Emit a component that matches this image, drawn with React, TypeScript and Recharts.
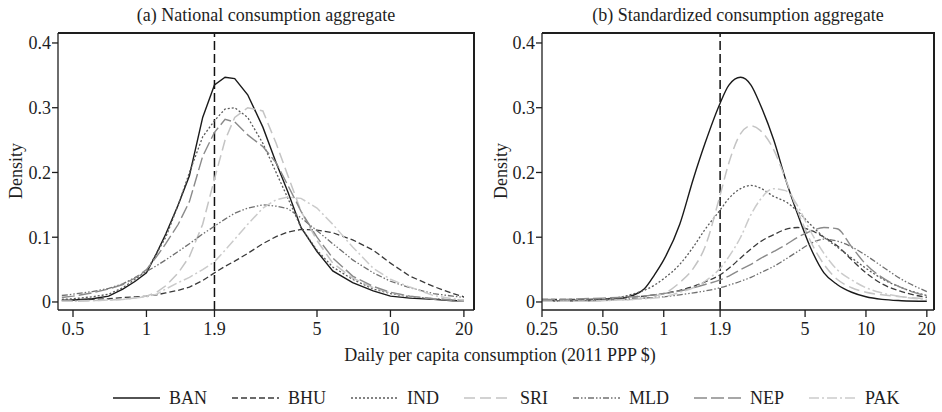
import React from 'react';
import { LineChart, Line, XAxis, YAxis, ReferenceLine } from 'recharts';

const FONT = '"Liberation Serif", "Times New Roman", serif';
const INK = '#1e1e1e';

// (a) national consumption aggregate, daily per capita (2011 PPP $)
const xNational = [0.45, 0.5, 0.6, 0.7, 0.8, 0.9, 1.0, 1.1, 1.2, 1.35, 1.5, 1.7, 1.9, 2.1, 2.3, 2.6, 3.0, 3.4, 3.8, 4.3, 5.0, 5.8, 7.0, 8.5, 10, 12, 15, 18, 20];
const banNational = [0.002, 0.003, 0.005, 0.009, 0.02, 0.032, 0.045, 0.075, 0.105, 0.15, 0.195, 0.285, 0.335, 0.347, 0.345, 0.32, 0.27, 0.215, 0.17, 0.115, 0.078, 0.048, 0.03, 0.017, 0.009, 0.006, 0.004, 0.002, 0.002];
const bhuNational = [0.003, 0.003, 0.004, 0.005, 0.007, 0.008, 0.009, 0.011, 0.014, 0.018, 0.023, 0.033, 0.045, 0.055, 0.063, 0.075, 0.09, 0.101, 0.108, 0.112, 0.111, 0.107, 0.096, 0.08, 0.06, 0.04, 0.024, 0.013, 0.008];
const indNational = [0.004, 0.005, 0.008, 0.012, 0.022, 0.035, 0.048, 0.075, 0.1, 0.15, 0.2, 0.255, 0.28, 0.298, 0.3, 0.285, 0.245, 0.2, 0.16, 0.115, 0.08, 0.054, 0.035, 0.02, 0.013, 0.008, 0.005, 0.003, 0.003];
const sriNational = [0.001, 0.001, 0.002, 0.003, 0.004, 0.006, 0.009, 0.015, 0.025, 0.045, 0.07, 0.12, 0.19, 0.25, 0.285, 0.3, 0.295, 0.245, 0.195, 0.14, 0.095, 0.06, 0.037, 0.022, 0.014, 0.009, 0.005, 0.003, 0.002];
const mldNational = [0.01, 0.012, 0.016, 0.021, 0.028, 0.038, 0.047, 0.056, 0.065, 0.078, 0.09, 0.105, 0.117, 0.128, 0.137, 0.145, 0.15, 0.148, 0.144, 0.13, 0.11, 0.09, 0.065, 0.045, 0.032, 0.022, 0.013, 0.009, 0.007];
const nepNational = [0.007, 0.009, 0.014, 0.02, 0.027, 0.037, 0.05, 0.07, 0.09, 0.12, 0.155, 0.225, 0.262, 0.282, 0.278, 0.258, 0.24, 0.215, 0.18, 0.14, 0.1, 0.068, 0.04, 0.024, 0.015, 0.009, 0.005, 0.003, 0.002];
const pakNational = [0.001, 0.001, 0.002, 0.003, 0.004, 0.006, 0.008, 0.012, 0.02, 0.03, 0.038, 0.05, 0.062, 0.08, 0.097, 0.12, 0.145, 0.158, 0.162, 0.16, 0.145, 0.12, 0.085, 0.052, 0.035, 0.023, 0.01, 0.005, 0.003];

// (b) standardized consumption aggregate
const xStandard = [0.25, 0.3, 0.4, 0.5, 0.6, 0.7, 0.8, 0.9, 1.0, 1.2, 1.4, 1.6, 1.9, 2.1, 2.4, 2.7, 3.0, 3.5, 4.0, 4.6, 5.3, 6.2, 7.2, 8.5, 10, 12, 15, 20];
const banStandard = [0.002, 0.002, 0.002, 0.003, 0.005, 0.01, 0.02, 0.042, 0.065, 0.12, 0.19, 0.245, 0.307, 0.335, 0.347, 0.335, 0.305, 0.25, 0.19, 0.135, 0.085, 0.045, 0.027, 0.015, 0.008, 0.004, 0.002, 0.001];
const bhuStandard = [0.004, 0.004, 0.004, 0.005, 0.006, 0.008, 0.009, 0.011, 0.013, 0.018, 0.024, 0.031, 0.042, 0.052, 0.068, 0.082, 0.093, 0.104, 0.112, 0.115, 0.111, 0.1, 0.087, 0.065, 0.045, 0.028, 0.016, 0.007];
const indStandard = [0.002, 0.002, 0.003, 0.004, 0.007, 0.012, 0.018, 0.026, 0.036, 0.058, 0.085, 0.112, 0.142, 0.16, 0.175, 0.18, 0.176, 0.163, 0.155, 0.14, 0.12, 0.1, 0.085, 0.068, 0.052, 0.036, 0.022, 0.01];
const sriStandard = [0.001, 0.001, 0.001, 0.002, 0.003, 0.004, 0.006, 0.009, 0.013, 0.03, 0.052, 0.085, 0.165, 0.215, 0.26, 0.272, 0.265, 0.235, 0.19, 0.14, 0.095, 0.058, 0.035, 0.022, 0.015, 0.011, 0.008, 0.005];
const mldStandard = [0.002, 0.002, 0.003, 0.003, 0.004, 0.005, 0.006, 0.007, 0.008, 0.011, 0.014, 0.017, 0.022, 0.026, 0.032, 0.038, 0.045, 0.055, 0.066, 0.078, 0.09, 0.097, 0.094, 0.085, 0.072, 0.055, 0.035, 0.016];
const nepStandard = [0.004, 0.004, 0.005, 0.006, 0.007, 0.008, 0.009, 0.011, 0.013, 0.017, 0.022, 0.027, 0.034, 0.04, 0.05, 0.058, 0.067, 0.078, 0.088, 0.1, 0.109, 0.115, 0.113, 0.085, 0.058, 0.038, 0.022, 0.009];
const pakStandard = [0.001, 0.001, 0.001, 0.002, 0.003, 0.004, 0.005, 0.006, 0.008, 0.015, 0.022, 0.032, 0.052, 0.07, 0.1, 0.135, 0.158, 0.175, 0.172, 0.148, 0.11, 0.075, 0.05, 0.034, 0.022, 0.014, 0.008, 0.004];

const countries = ['BAN', 'BHU', 'IND', 'SRI', 'MLD', 'NEP', 'PAK'];
const nationalSeries = [banNational, bhuNational, indNational, sriNational, mldNational, nepNational, pakNational];
const standardSeries = [banStandard, bhuStandard, indStandard, sriStandard, mldStandard, nepStandard, pakStandard];

const ticksNational = [0.5, 1, 1.9, 5, 10, 20];
const ticksStandard = [0.25, 0.5, 1, 1.9, 5, 10, 20];
const ticksDensity = [0, 0.1, 0.2, 0.3, 0.4];
const yDomain: [number, number] = [-0.0124, 0.4154];

const lineStyle: Record<string, { stroke: string; dash?: string; width: number }> = {
  BAN: { stroke: '#1a1a1a', width: 1.4 },
  BHU: { stroke: '#3a3a3a', dash: '6 3', width: 1.3 },
  IND: { stroke: '#5a5a5a', dash: '2 2', width: 1.3 },
  SRI: { stroke: '#c4c4c4', dash: '11 5', width: 1.5 },
  MLD: { stroke: '#707070', dash: '6 2 1.5 2 1.5 2', width: 1.3 },
  NEP: { stroke: '#8a8a8a', dash: '13 4', width: 1.4 },
  PAK: { stroke: '#cbcbcb', dash: '10 3 2 3', width: 1.5 },
};

const buildRows = (xs: number[], series: number[][]) =>
  xs.map((x, i) => {
    const row: Record<string, number> = { x };
    countries.forEach((c, k) => { row[c] = series[k][i]; });
    return row;
  });

const tickStyle = { fill: INK, fontSize: 18, fontFamily: FONT };
const axisStroke = { stroke: INK, strokeWidth: 1.3 };

interface PanelProps {
  rows: Record<string, number>[];
  width: number;
  yAxisWidth: number;
  marginRight: number;
  domain: [number, number];
  ticks: number[];
  fmt: (v: number) => string;
  smooth: boolean;
}

const Panel: React.FC<PanelProps> = ({ rows, width, yAxisWidth, marginRight, domain, ticks, fmt, smooth }) => (
  <LineChart width={width} height={345} data={rows} margin={{ top: 33, right: marginRight, bottom: 0, left: 8 }}>
    <XAxis
      dataKey="x"
      type="number"
      scale="log"
      domain={domain}
      allowDataOverflow
      ticks={ticks}
      tickFormatter={fmt}
      interval={0}
      height={35}
      tickSize={7}
      tickMargin={5}
      tick={tickStyle}
      axisLine={axisStroke}
      tickLine={axisStroke}
    />
    <YAxis
      domain={yDomain}
      allowDataOverflow
      ticks={ticksDensity}
      tickFormatter={(v: number) => (v === 0 ? '0' : v.toFixed(1))}
      interval={0}
      width={yAxisWidth}
      tickSize={6}
      tickMargin={1}
      tick={tickStyle}
      axisLine={axisStroke}
      tickLine={axisStroke}
    />
    {/* top and right edges of the plot box */}
    <ReferenceLine y={yDomain[1]} stroke={INK} strokeWidth={1.5} ifOverflow="extendDomain" />
    <ReferenceLine x={domain[1]} stroke={INK} strokeWidth={1.5} ifOverflow="extendDomain" />
    <ReferenceLine x={1.9} stroke="#111" strokeWidth={1.5} strokeDasharray="9 4" />
    {countries.map(c => (
      <Line
        key={c}
        dataKey={c}
        type={smooth ? 'monotone' : 'linear'}
        stroke={lineStyle[c].stroke}
        strokeWidth={lineStyle[c].width}
        strokeDasharray={lineStyle[c].dash}
        dot={false}
        activeDot={false}
        isAnimationActive={false}
      />
    ))}
  </LineChart>
);

const textBase: React.CSSProperties = { position: 'absolute', fontFamily: FONT, fontSize: 18, color: INK, whiteSpace: 'nowrap', lineHeight: '20px' };

const Title = ({ text, cx }: { text: string; cx: number }) => (
  <div style={{ ...textBase, left: cx, top: 5, transform: 'translateX(-50%)' }}>{text}</div>
);

const Density = ({ cx }: { cx: number }) => (
  <div style={{ ...textBase, left: cx, top: 171, transform: 'translate(-50%, -50%) rotate(-90deg)' }}>Density</div>
);

const Frame = ({ left, right }: { left: number; right: number }) => (
  <>
    <div style={{ position: 'absolute', left, top: 32, width: right - left, height: 2, background: INK }} />
    <div style={{ position: 'absolute', left: right - 1, top: 32, width: 2, height: 278, background: INK }} />
  </>
);

export default function App() {
  const rowsNational = buildRows(xNational, nationalSeries);
  const rowsStandard = buildRows(xStandard, standardSeries);

  return (
    <div style={{ position: 'absolute', left: 0, top: 0, width: 942, height: 412, background: '#fff', overflow: 'hidden' }}>
      <div style={{ position: 'absolute', left: 0, top: 0 }}>
        <Panel rows={rowsNational} width={480} yAxisWidth={50} marginRight={6} domain={[0.434, 22]} ticks={ticksNational} fmt={v => String(v)} smooth={false} />
      </div>
      <div style={{ position: 'absolute', left: 471, top: 0 }}>
        <Panel rows={rowsStandard} width={471} yAxisWidth={63} marginRight={8} domain={[0.25, 21.7]} ticks={ticksStandard} fmt={v => (v === 0.25 ? '0.25' : v === 0.5 ? '0.50' : String(v))} smooth />
      </div>

      <Frame left={58} right={474} />
      <Frame left={542} right={934} />

      <Title text="(a) National consumption aggregate" cx={266} />
      <Title text="(b) Standardized consumption aggregate" cx={738} />
      <Density cx={16} />
      <Density cx={501} />

      <div style={{ ...textBase, left: 500, top: 345, transform: 'translateX(-50%)' }}>Daily per capita consumption (2011 PPP $)</div>

      {/* legend */}
      <div style={{ position: 'absolute', left: 113, top: 388, display: 'flex', alignItems: 'center', gap: 25 }}>
        {countries.map(c => (
          <div key={c} style={{ display: 'flex', alignItems: 'center' }}>
            <svg width={47} height={10}>
              <line x1={0} y1={5} x2={47} y2={5} stroke={lineStyle[c].stroke} strokeWidth={lineStyle[c].width} strokeDasharray={lineStyle[c].dash} />
            </svg>
            <span style={{ fontFamily: FONT, fontSize: 18, color: INK, marginLeft: 9, lineHeight: '20px' }}>{c}</span>
          </div>
        ))}
      </div>
    </div>
  );
}
